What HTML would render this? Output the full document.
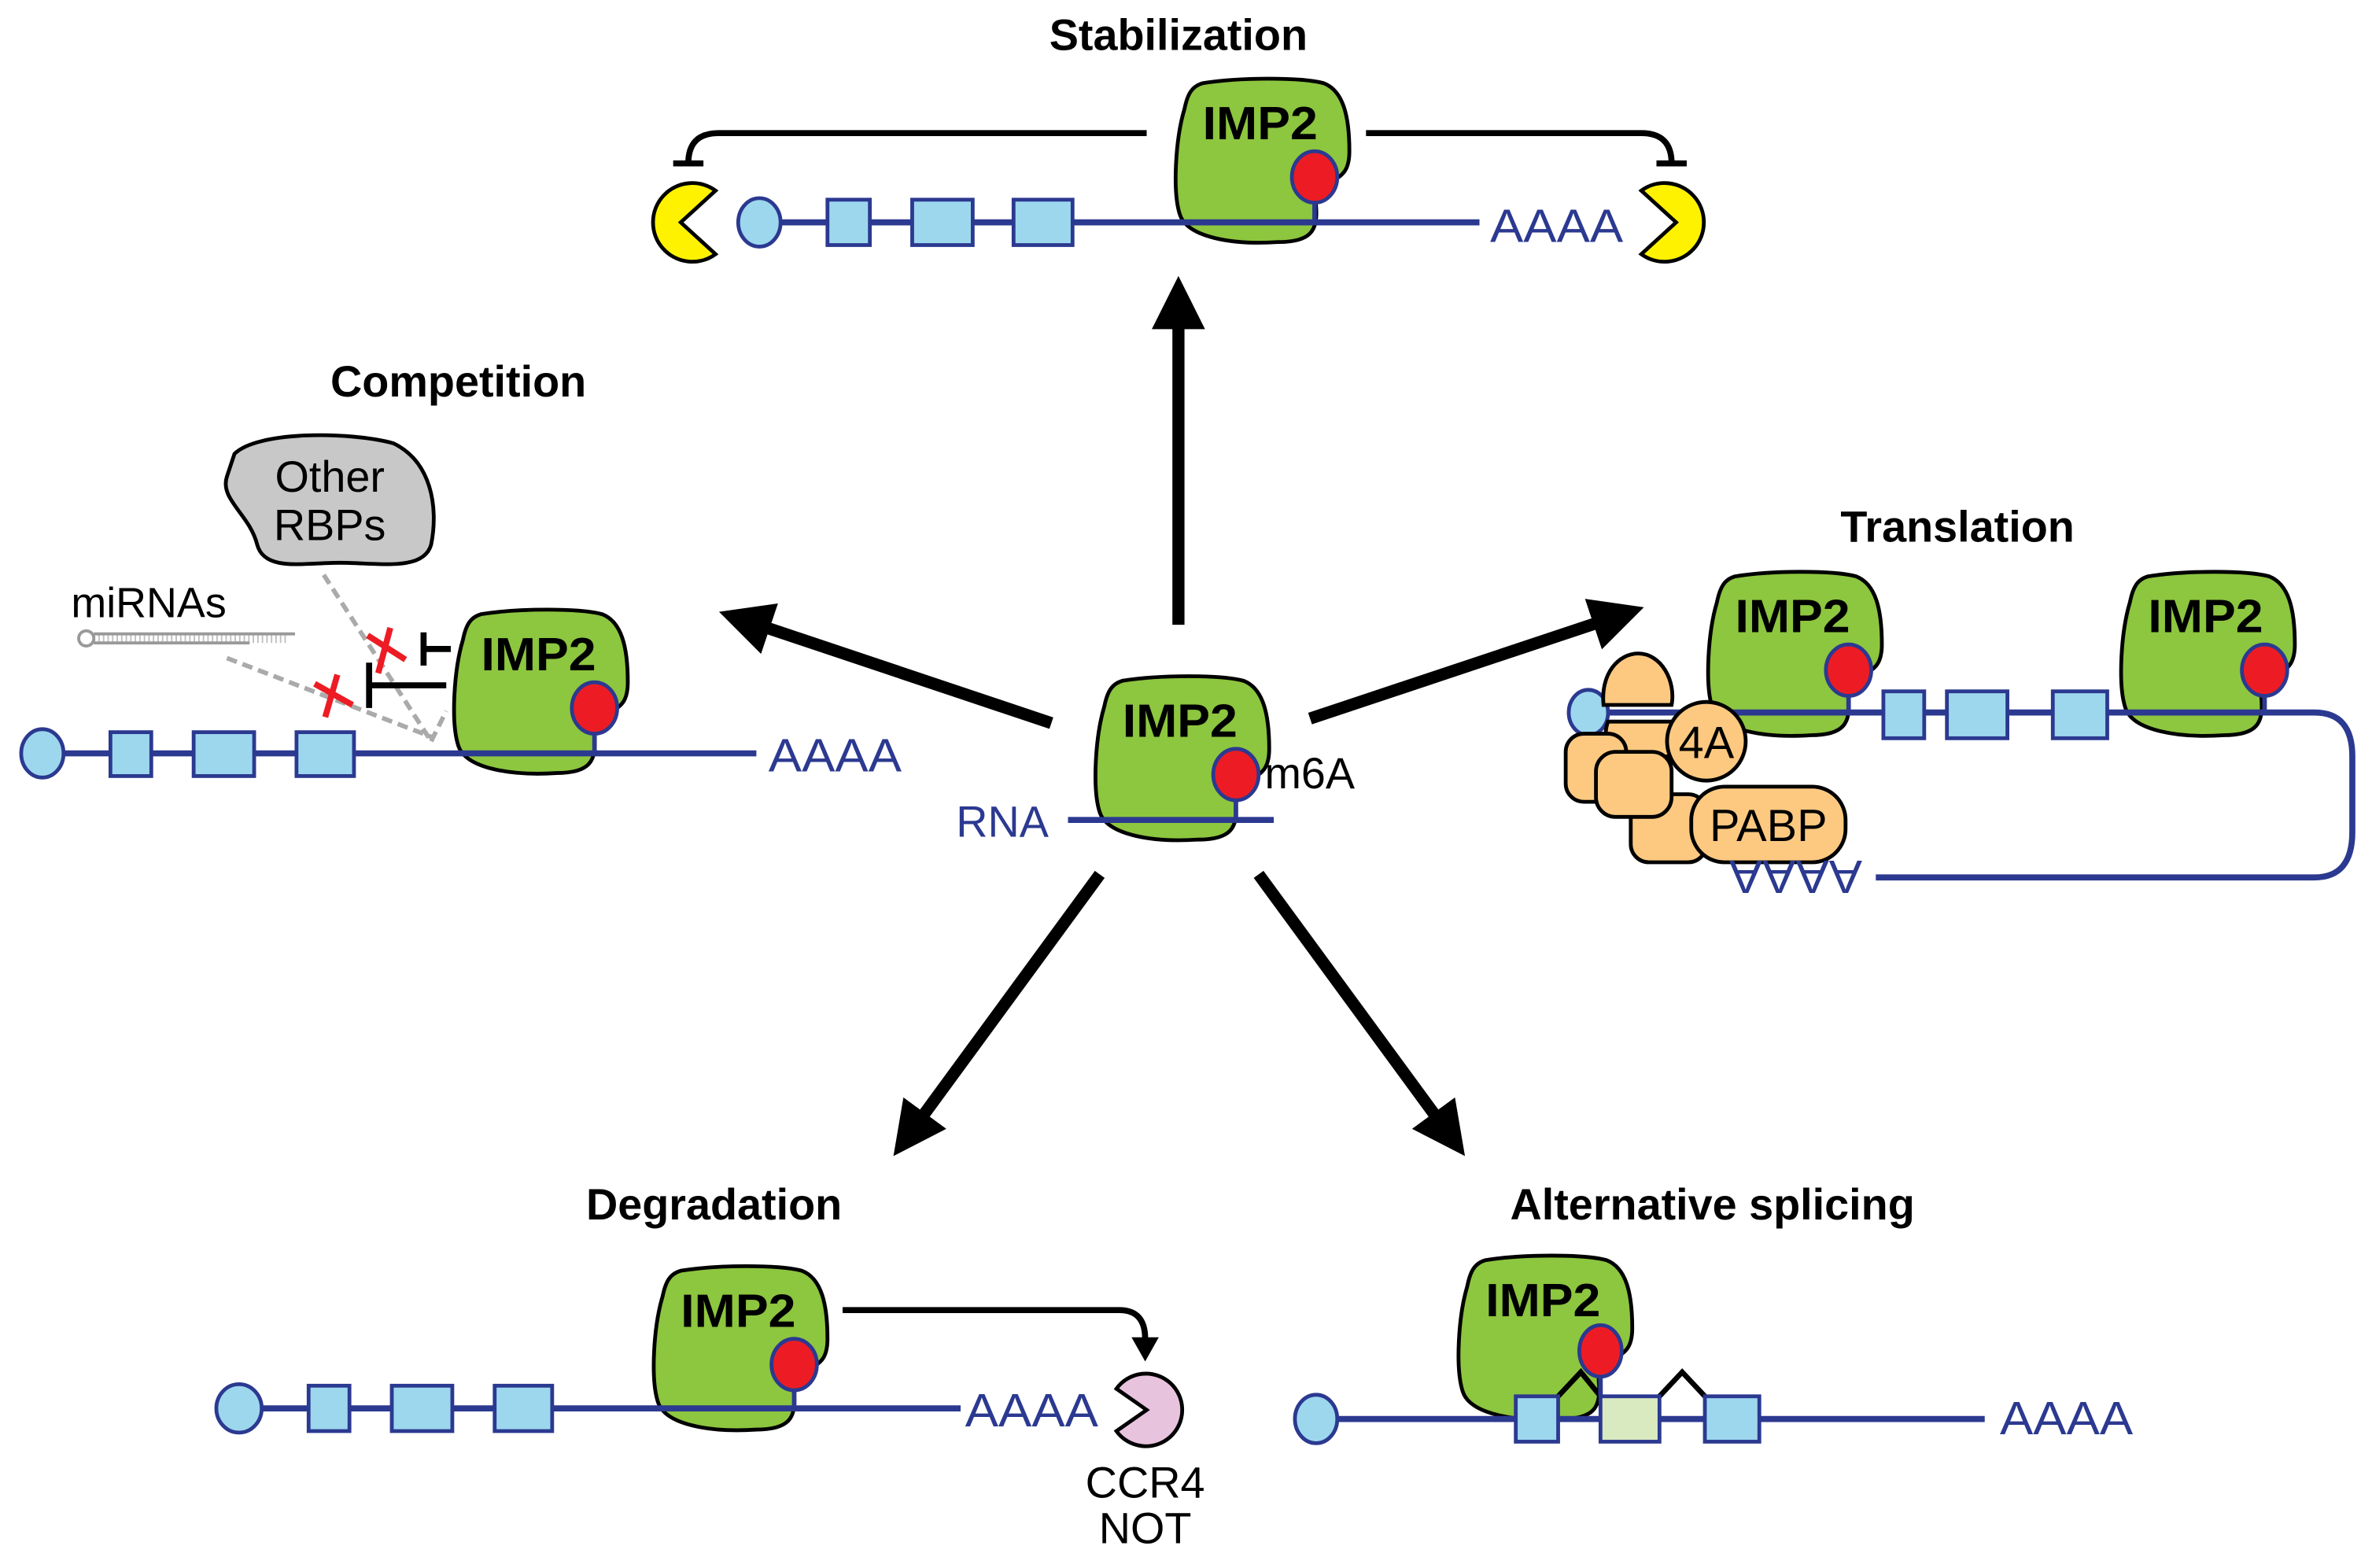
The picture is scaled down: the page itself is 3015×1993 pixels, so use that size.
<!DOCTYPE html>
<html><head><meta charset="utf-8"><style>html,body{margin:0;padding:0;background:#fff}svg{display:block}</style></head>
<body>
<svg width="3015" height="1993" viewBox="0 0 1568 1036.5" xmlns="http://www.w3.org/2000/svg" font-family="Liberation Sans, sans-serif">
<defs>
<g id="imp">
<path d="M20,3 C45,-1 85,-1 100,3 C113,8 117,25 117,48 C117,60 113,64 105,68 C97,70 94,75 95,85 C96,100 92,108 70,108 C40,110 10,105 5,90 C0,75 2,40 8,20 C10,10 13,5 20,3 Z" fill="#8dc63f" stroke="#000" stroke-width="2.5"/>
<text x="58" y="40" font-size="31" font-weight="bold" text-anchor="middle" textLength="76" lengthAdjust="spacingAndGlyphs">IMP2</text>
</g>
<g id="m6a"><ellipse cx="0" cy="0" rx="15" ry="17" fill="#ed1c24" stroke="#2b3990" stroke-width="2.5"/><line x1="0" y1="17" x2="0" y2="30" stroke="#2b3990" stroke-width="3"/></g>
<marker id="ah" viewBox="0 0 10 10" refX="5" refY="5" markerWidth="4.4" markerHeight="4.4" orient="auto"><path d="M0,0 L10,5 L0,10 Z"/></marker>
</defs>
<!-- Stabilization -->
<text x="779" y="33" font-size="29" font-weight="bold" text-anchor="middle">Stabilization</text>
<path d="M758,88 L475,88 Q455,88 455,108 M445,108 L465,108" fill="none" stroke="#000" stroke-width="4"/>
<path d="M903,88 L1085,88 Q1105,88 1105,108 M1095,108 L1115,108" fill="none" stroke="#000" stroke-width="4"/>
<path d="M450,147 L473,126 A26,26 0 1 0 473,168 Z" fill="#fff200" stroke="#000" stroke-width="2.5"/>
<path d="M1108,147 L1085,126 A26,26 0 1 1 1085,168 Z" fill="#fff200" stroke="#000" stroke-width="2.5"/>
<use href="#imp" x="775" y="52"/>
<line x1="502" y1="147" x2="978" y2="147" stroke="#2b3990" stroke-width="4"/>
<use href="#m6a" x="869" y="117"/>
<g stroke="#2b3990" fill="#9dd7ee" stroke-width="2.5">
<ellipse cx="502" cy="147" rx="14" ry="16"/>
<rect x="547" y="132" width="28" height="30"/><rect x="603" y="132" width="40" height="30"/><rect x="670" y="132" width="39" height="30"/>
</g>
<text x="985" y="160" font-size="31" fill="#2b3990" textLength="88" lengthAdjust="spacingAndGlyphs">AAAA</text>
<!-- arrows -->
<g stroke="#000" stroke-width="8" marker-end="url(#ah)">
<line x1="779" y1="413" x2="779" y2="200"/>
<line x1="695" y1="478" x2="492" y2="410"/>
<line x1="866" y1="475" x2="1070" y2="407"/>
<line x1="727" y1="578" x2="601" y2="750"/>
<line x1="832" y1="578" x2="958" y2="750"/>
</g>
<!-- Center -->
<use href="#imp" x="722" y="447"/>
<line x1="706" y1="542" x2="842" y2="542" stroke="#2b3990" stroke-width="4"/>
<use href="#m6a" x="817" y="512"/>
<text x="836" y="521" font-size="29">m6A</text>
<text x="632" y="553" font-size="29" fill="#2b3990">RNA</text>
<!-- Competition -->
<text x="303" y="262" font-size="29" font-weight="bold" text-anchor="middle">Competition</text>
<path d="M155,300 C170,285 230,285 260,293 C285,305 290,335 285,360 C280,378 250,372 225,372 C200,372 175,378 170,360 C165,340 145,330 150,315 Z" fill="#c8c8c8" stroke="#000" stroke-width="2.5"/>
<text x="218" y="325" font-size="29" text-anchor="middle">Other</text>
<text x="218" y="357" font-size="29" text-anchor="middle">RBPs</text>
<text x="47" y="408" font-size="28">miRNAs</text>
<circle cx="57" cy="422" r="5" fill="none" stroke="#999" stroke-width="2"/>
<line x1="62" y1="419" x2="195" y2="419" stroke="#999" stroke-width="2"/>
<line x1="62" y1="425" x2="165" y2="425" stroke="#999" stroke-width="2"/>
<line x1="62" y1="422" x2="190" y2="422" stroke="#999" stroke-width="6" stroke-dasharray="1 2" opacity="0.6"/>
<g stroke="#aaa" stroke-width="3" stroke-dasharray="7 4" fill="none">
<path d="M214,380 L285,490"/><path d="M150,435 L285,487"/><path d="M285,490 L295,470"/>
</g>
<g stroke="#ed1c24" stroke-width="4"><line x1="243" y1="420" x2="268" y2="436"/><line x1="258" y1="415" x2="250" y2="445"/>
<line x1="208" y1="452" x2="233" y2="466"/><line x1="223" y1="446" x2="215" y2="474"/></g>
<path d="M298,429 L280,429 M280,418 L280,440 M295,453 L244,453 M244,438 L244,468" stroke="#000" stroke-width="4" fill="none"/>
<use href="#imp" x="298" y="403"/>
<line x1="28" y1="498" x2="500" y2="498" stroke="#2b3990" stroke-width="4"/>
<use href="#m6a" x="393" y="468"/>
<g stroke="#2b3990" fill="#9dd7ee" stroke-width="2.5">
<ellipse cx="28" cy="498" rx="14" ry="16"/>
<rect x="73" y="484" width="27" height="29"/><rect x="128" y="484" width="40" height="29"/><rect x="196" y="484" width="38" height="29"/>
</g>
<text x="508" y="510" font-size="31" fill="#2b3990" textLength="88" lengthAdjust="spacingAndGlyphs">AAAA</text>
<!-- Translation -->
<text x="1294" y="358" font-size="29" font-weight="bold" text-anchor="middle">Translation</text>
<use href="#imp" x="1127" y="378"/>
<use href="#imp" x="1400" y="378"/>
<path d="M1050,471 L1530,471 Q1555,471 1555,500 L1555,550 Q1555,580 1530,580 L1240,580" fill="none" stroke="#2b3990" stroke-width="4"/>
<use href="#m6a" x="1222" y="443"/>
<use href="#m6a" x="1497" y="443"/>
<g stroke="#2b3990" fill="#9dd7ee" stroke-width="2.5">
<ellipse cx="1050" cy="471" rx="13" ry="15"/>
<rect x="1245" y="457" width="27" height="31"/><rect x="1287" y="457" width="40" height="31"/><rect x="1357" y="457" width="36" height="31"/>
</g>
<g fill="#fdc981" stroke="#000" stroke-width="2.5">
<path d="M1060,466 C1058,445 1070,432 1083,432 C1098,432 1108,450 1105,466 Z"/>
<path d="M1063,477 L1112,477 L1112,500 L1070,500 Q1058,490 1063,477 Z"/>
<rect x="1035" y="485" width="40" height="45" rx="12"/>
<rect x="1078" y="525" width="50" height="45" rx="12"/>
<rect x="1055" y="497" width="50" height="43" rx="13"/>
<circle cx="1128" cy="490" r="26"/>
<rect x="1118" y="520" width="102" height="50" rx="22"/>
</g>
<text x="1128" y="501" font-size="30" text-anchor="middle">4A</text>
<text x="1169" y="556" font-size="30" text-anchor="middle">PABP</text>
<text font-size="31" fill="#2b3990" transform="rotate(180 1187 580)"><tspan x="1143" y="591" textLength="88" lengthAdjust="spacingAndGlyphs">AAAA</tspan></text>
<!-- Degradation -->
<text x="472" y="806" font-size="29" font-weight="bold" text-anchor="middle">Degradation</text>
<use href="#imp" x="430" y="837"/>
<path d="M557,866 L740,866 Q757,866 757,885" fill="none" stroke="#000" stroke-width="4"/>
<path d="M748,884 L766,884 L757,900 Z"/>
<line x1="145" y1="931" x2="635" y2="931" stroke="#2b3990" stroke-width="4"/>
<use href="#m6a" x="525" y="902"/>
<g stroke="#2b3990" fill="#9dd7ee" stroke-width="2.5">
<ellipse cx="158" cy="931" rx="15" ry="16"/>
<rect x="204" y="916" width="27" height="30"/><rect x="259" y="916" width="40" height="30"/><rect x="327" y="916" width="38" height="30"/>
</g>
<text x="638" y="943" font-size="31" fill="#2b3990" textLength="88" lengthAdjust="spacingAndGlyphs">AAAA</text>
<path d="M758,932 L738,918 A24,24 0 1 1 738,946 Z" fill="#e8c3de" stroke="#000" stroke-width="2.5"/>
<text x="757" y="990" font-size="29" text-anchor="middle">CCR4</text>
<text x="757" y="1020" font-size="29" text-anchor="middle">NOT</text>
<!-- Splicing -->
<text x="1132" y="806" font-size="29" font-weight="bold" text-anchor="middle">Alternative splicing</text>
<use href="#imp" x="962" y="830"/>
<line x1="870" y1="938" x2="1312" y2="938" stroke="#2b3990" stroke-width="4"/>
<path d="M1030,923 L1045,907 L1058,923 M1097,923 L1112,907 L1127,923" fill="none" stroke="#000" stroke-width="3.5"/>
<line x1="1058" y1="896" x2="1058" y2="923" stroke="#2b3990" stroke-width="3"/>
<ellipse cx="1058" cy="893" rx="14" ry="17" fill="#ed1c24" stroke="#2b3990" stroke-width="2.5"/>
<g stroke="#2b3990" stroke-width="2.5">
<ellipse cx="870" cy="938" rx="14" ry="16" fill="#9dd7ee"/>
<rect x="1002" y="923" width="28" height="30" fill="#9dd7ee"/><rect x="1058" y="923" width="39" height="30" fill="#d9eac0"/><rect x="1127" y="923" width="36" height="30" fill="#9dd7ee"/>
</g>
<text x="1322" y="948" font-size="31" fill="#2b3990" textLength="88" lengthAdjust="spacingAndGlyphs">AAAA</text>
</svg>
</body></html>
